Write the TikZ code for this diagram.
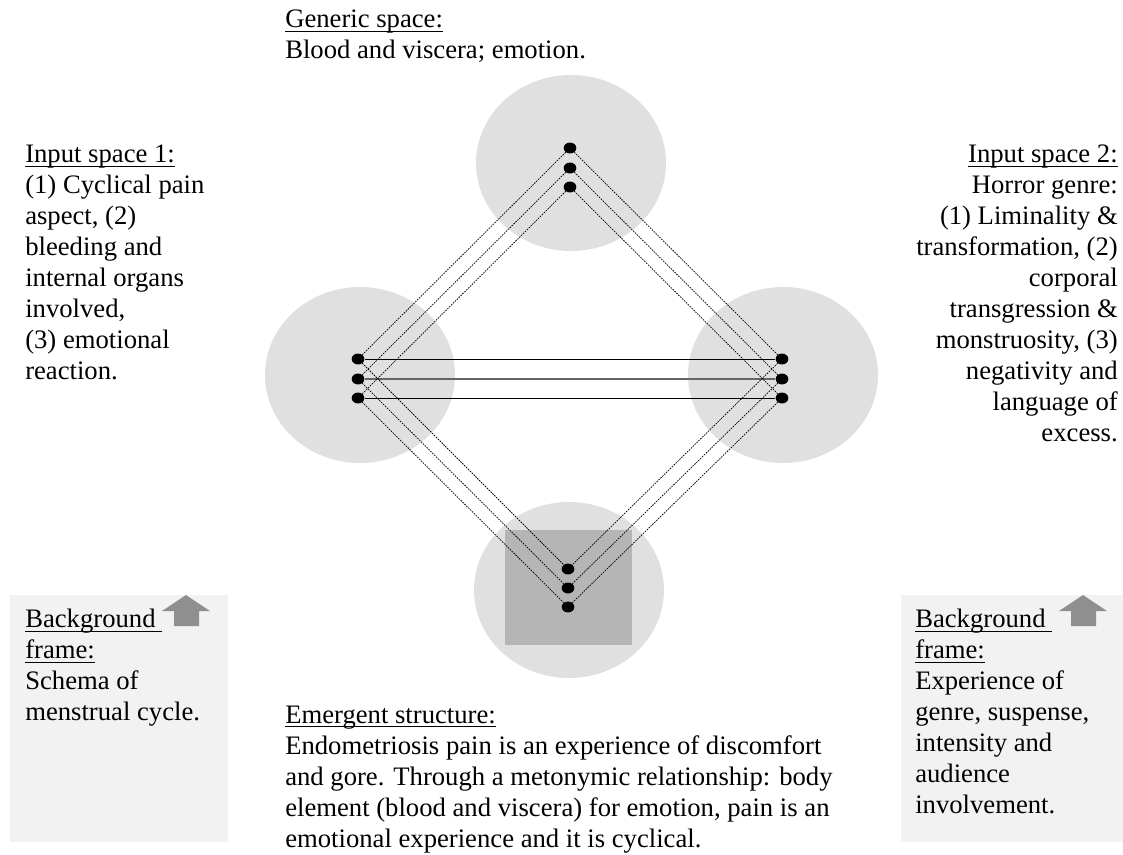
\documentclass[tikz,border=0pt]{standalone}
\usepackage{fontspec}
\setmainfont{Liberation Serif}
\usetikzlibrary{shapes.geometric}

\definecolor{spacegray}{HTML}{E0E0E0}
\definecolor{blendgray}{HTML}{B5B5B5}
\definecolor{framegray}{HTML}{F2F2F2}
\definecolor{arrowgray}{HTML}{8F8F8F}

% underline sitting close to the baseline
\newcommand{\ulined}[1]{\setbox0\hbox{#1}\rlap{\rule[-2.8pt]{\wd0}{0.75pt}}\box0}

\begin{document}
\begin{tikzpicture}[x=0.75pt,y=-0.75pt,
  space/.style={ellipse, fill=spacegray, minimum width=142.5pt, minimum height=132pt, inner sep=0},
  dot/.style={ellipse, fill=black, minimum width=9.5pt, minimum height=8.2pt, inner sep=0},
  link/.style={dash pattern=on 1.2pt off 0.8pt, line width=0.55pt},
  map/.style={line width=0.6pt},
  label/.style={inner sep=0, font=\fontsize{20}{23.25}\selectfont}]
  \useasboundingbox (0,0) rectangle (1123,854);

  % Background frames with their arrows
  \fill[framegray] (10,595) rectangle (228,842);
  \fill[framegray] (901,595) rectangle (1123,842);
  \fill[arrowgray] (186,595) -- (210,611) -- (199,611) -- (199,626) -- (174,626) -- (174,611) -- (162,611) -- cycle;
  \fill[arrowgray] (1083,595) -- (1107,611) -- (1096,611) -- (1096,626) -- (1071,626) -- (1071,611) -- (1059,611) -- cycle;

  % The four spaces
  \node[space] (gen) at (571,163) {};
  \node[space] (in1) at (360,375) {};
  \node[space] (in2) at (783,375) {};
  \node[space] (blend) at (569,590) {};
  \fill[blendgray] (505,530) rectangle (632,645);

  % Elements in each space
  \foreach \i/\y in {1/148,2/168,3/187} \node[dot] (g\i) at (570,\y) {};
  \foreach \i/\y in {1/359,2/379,3/398} {
    \node[dot] (a\i) at (358,\y) {};
    \node[dot] (b\i) at (782,\y) {};
  }
  \foreach \i/\y in {1/569,2/588,3/607} \node[dot] (e\i) at (568,\y) {};

  % Cross-space mapping and projections
  \draw[map] (a1) -- (b1);
  \draw[map, black!60, line width=0.9pt] (a2) -- (b2);
  \draw[map] (a3) -- (b3);
  \foreach \i in {1,2,3} {
    \draw[link] (g\i) -- (a\i);
    \draw[link] (g\i) -- (b\i);
    \draw[link] (a\i) -- (e\i);
    \draw[link] (b\i) -- (e\i);
  }

  % Labels
  \node[label, anchor=north west, align=left] (genlbl) at (285,10)
    {\ulined{Generic space:}\\Blood and viscera; emotion.};
  \node[label, anchor=north west, align=left] (in1lbl) at (25,145)
    {\ulined{Input space 1:}\\(1) Cyclical pain\\aspect, (2)\\bleeding and\\internal organs\\involved,\\(3) emotional\\reaction.};
  \node[label, anchor=north east, align=right] (in2lbl) at (1118,145)
    {\ulined{Input space 2:}\\Horror genre:\\(1) Liminality \&\\transformation, (2)\\corporal\\transgression \&\\monstruosity, (3)\\negativity and\\language of\\excess.};
  \node[label, anchor=north west, align=left] (bg1lbl) at (25,609)
    {\ulined{Background\ }\\\ulined{frame:}\\Schema of\\menstrual cycle.};
  \node[label, anchor=north west, align=left] (bg2lbl) at (915,609)
    {\ulined{Background\ }\\\ulined{frame:}\\Experience of\\genre, suspense,\\intensity and\\audience\\involvement.};
  \node[label, anchor=north west, align=left] (emlbl) at (285,706)
    {\ulined{Emergent structure:}\\Endometriosis pain is an experience of discomfort\\and gore. Through a metonymic relationship: body\\element (blood and viscera) for emotion, pain is an\\emotional experience and it is cyclical.};
\end{tikzpicture}
\end{document}
